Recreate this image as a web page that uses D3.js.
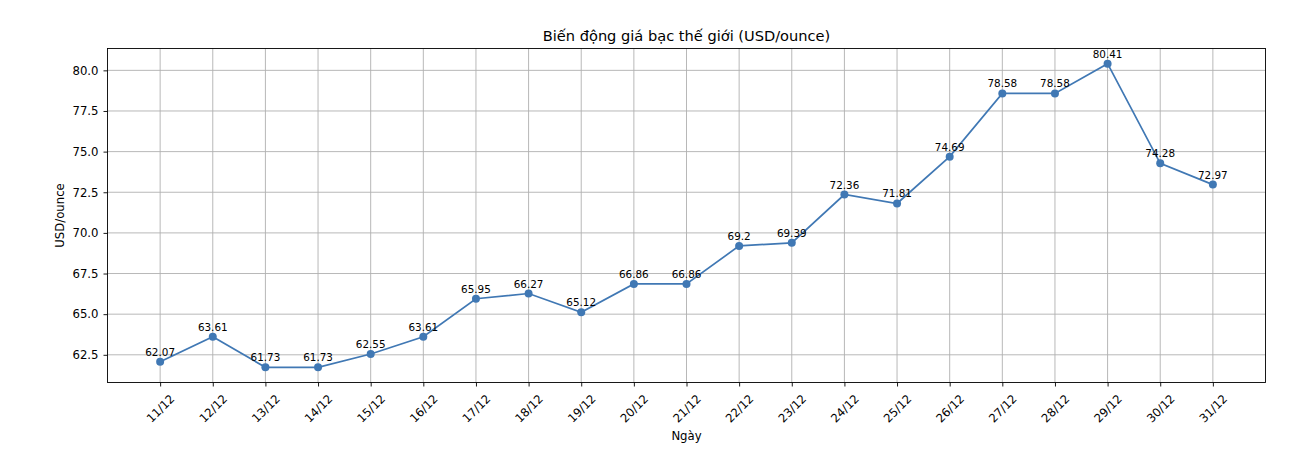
<!DOCTYPE html>
<html>
<head>
<meta charset="utf-8">
<script src="https://cdn.jsdelivr.net/npm/d3@7"></script>
<style>
  html, body { margin: 0; padding: 0; background: #fff; }
  svg { display: block; font-family: "DejaVu Sans", sans-serif; }
</style>
</head>
<body>
<svg id="chart" width="1298" height="454"></svg>
<script>
const dates = ["11/12","12/12","13/12","14/12","15/12","16/12","17/12","18/12","19/12","20/12","21/12","22/12","23/12","24/12","25/12","26/12","27/12","28/12","29/12","30/12","31/12"];
const prices = [62.07,63.61,61.73,61.73,62.55,63.61,65.95,66.27,65.12,66.86,66.86,69.2,69.39,72.36,71.81,74.69,78.58,78.58,80.41,74.28,72.97];
const yTicks = [62.5,65.0,67.5,70.0,72.5,75.0,77.5,80.0];
const title = "Biến động giá bạc thế giới (USD/ounce)";
const xLabel = "Ngày";
const yLabel = "USD/ounce";

const svg = d3.select("#chart");
const L = 107.5, R = 1265.5, T = 48.5, B = 382.5;
const color = "#4078b4";

const n = dates.length;
const x = d3.scaleLinear().domain([-1, n]).range([L, R]);
const yMin = d3.min(prices), yMax = d3.max(prices);
const pad = (yMax - yMin) * 0.05;
const y = d3.scaleLinear().domain([yMin - pad, yMax + pad]).range([B, T]);

// grid
const g = svg.append("g");
g.selectAll("line.vg").data(dates).enter().append("line")
  .attr("x1", (d,i)=>x(i)).attr("x2", (d,i)=>x(i))
  .attr("y1", T).attr("y2", B)
  .attr("stroke", "#b0b0b0").attr("stroke-width", 0.9);
g.selectAll("line.hg").data(yTicks).enter().append("line")
  .attr("x1", L).attr("x2", R)
  .attr("y1", d=>y(d)).attr("y2", d=>y(d))
  .attr("stroke", "#b0b0b0").attr("stroke-width", 0.9);

// axes
const xAxis = d3.axisBottom(d3.scaleLinear().domain(x.domain()).range(x.range()))
  .tickValues(d3.range(n)).tickFormat(i => dates[i]).tickSize(4).tickPadding(4);
const gx = svg.append("g").attr("transform", `translate(0,${B})`).call(xAxis);
gx.select(".domain").remove();
gx.selectAll(".tick line").attr("stroke", "#000").attr("stroke-width", 0.9);
gx.selectAll(".tick text").remove();
gx.selectAll(".tick").append("text")
  .attr("x", 0).attr("y", 26)
  .attr("text-anchor", "middle")
  .attr("dominant-baseline", "central")
  .attr("transform", "rotate(-45,0,26)")
  .attr("fill", "#000")
  .style("font-size", "11.7px")
  .style("font-family", "DejaVu Sans")
  .text(i => dates[i]);

const yAxis = d3.axisLeft(y).tickValues(yTicks).tickFormat(d3.format(".1f")).tickSize(4).tickPadding(5);
const gy = svg.append("g").attr("transform", `translate(${L},0)`).call(yAxis);
gy.select(".domain").remove();
gy.selectAll(".tick line").attr("stroke", "#000").attr("stroke-width", 0.9);
gy.selectAll(".tick text").attr("fill", "#000").style("font-size", "11.7px").style("font-family", "DejaVu Sans");

// frame
svg.append("rect").attr("x", L).attr("y", T).attr("width", R-L).attr("height", B-T)
  .attr("fill", "none").attr("stroke", "#000").attr("stroke-width", 0.9);

// line
const line = d3.line().x((d,i)=>x(i)).y(d=>y(d));
svg.append("path").datum(prices).attr("d", line)
  .attr("fill", "none").attr("stroke", color).attr("stroke-width", 1.7);
svg.selectAll("circle.pt").data(prices).enter().append("circle")
  .attr("cx", (d,i)=>x(i)).attr("cy", d=>y(d)).attr("r", 4).attr("fill", color);

// value labels
svg.selectAll("text.val").data(prices).enter().append("text")
  .attr("x", (d,i)=>x(i)).attr("y", d=>y(d) - 6)
  .attr("text-anchor", "middle")
  .style("font-size", "10.4px")
  .attr("fill", "#000")
  .text(d => String(d));

// title & labels
svg.append("text").attr("x", (L+R)/2).attr("y", 41).attr("text-anchor", "middle")
  .style("font-size", "14.6px").attr("fill", "#000").text(title);
svg.append("text").attr("x", (L+R)/2).attr("y", 440).attr("text-anchor", "middle")
  .style("font-size", "11.7px").attr("fill", "#000").text(xLabel);
svg.append("text").attr("transform", `translate(64,${(T+B)/2}) rotate(-90)`)
  .attr("text-anchor", "middle")
  .style("font-size", "11.7px").attr("fill", "#000").text(yLabel);
</script>
</body>
</html>
